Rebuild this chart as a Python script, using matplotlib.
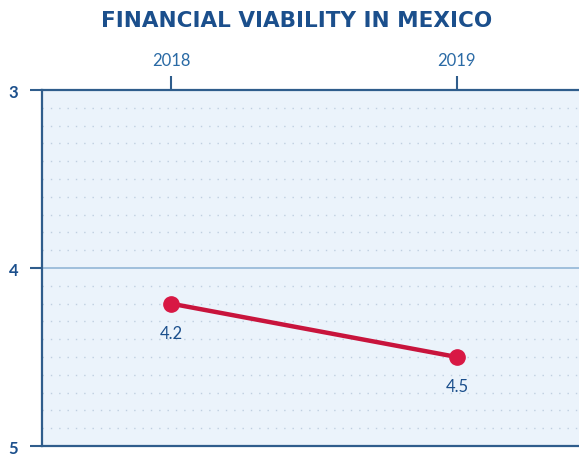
import numpy as np
import matplotlib.pyplot as plt

years = ["2018", "2019"]
scores = [4.2, 4.5]
score_labels = ["4.2", "4.5"]
y_ticks = [3, 4, 5]

navy = "#1b4f8c"
spine = "#2f5d8c"
red = "#c8143c"

fig = plt.figure(figsize=(5.79, 4.56), dpi=100)
ax = fig.add_axes([0.0725, 0.0197, 0.9275, 0.7807])
ax.set_facecolor("#ebf3fb")

x = np.arange(len(years))
ax.set_xlim(-0.451, 1.427)
ax.set_ylim(5, 3)

# dotted minor rows every 0.1, solid line at the middle value
for v in np.arange(3.1, 5.0, 0.1):
    if abs(v - 4) < 1e-6:
        continue
    ax.axhline(v, color="#bfcfe0", lw=1.0, ls=(0, (1, 5)), zorder=1)
ax.axhline(4, color="#9fbfdc", lw=1.4, zorder=1)

ax.plot(x, scores, color=red, lw=3.2, zorder=3,
        marker="o", ms=11, markerfacecolor="#d81844", markeredgecolor="#d81844")
for xi, s, lab in zip(x, scores, score_labels):
    ax.annotate(lab, (xi, s), xytext=(0, -21), textcoords="offset points",
                ha="center", va="center", fontsize=12, color=navy, family="Lato")

ax.xaxis.tick_top()
ax.set_xticks(x)
ax.set_xticklabels(years, fontsize=12, color="#2a6aa5", family="Lato")
ax.tick_params(axis="x", length=10, width=1.5, color=spine, pad=6)

ax.set_yticks(y_ticks)
ax.set_yticklabels([str(t) for t in y_ticks], fontsize=12, color=navy,
                   family="Lato", fontweight="bold")
ax.tick_params(axis="y", length=9, width=1.5, color=spine, pad=8)

ax.spines["right"].set_visible(False)
for side in ["left", "top", "bottom"]:
    ax.spines[side].set_color(spine)
    ax.spines[side].set_linewidth(1.6)

fig.text(0.512, 0.955, "FINANCIAL VIABILITY IN MEXICO", ha="center", va="center",
         fontsize=15.5, fontweight="bold", color=navy, family="DejaVu Sans")

fig.savefig("out.png", dpi=100)
